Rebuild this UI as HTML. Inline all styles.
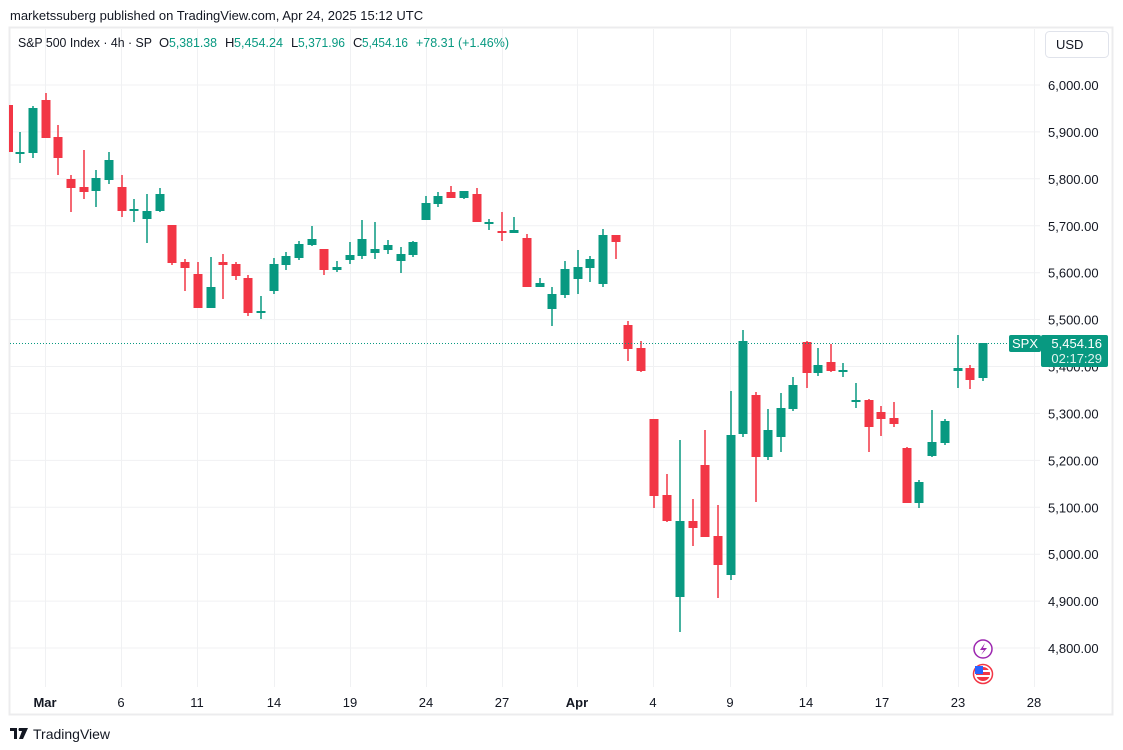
<!DOCTYPE html>
<html><head><meta charset="utf-8"><style>
body{margin:0;width:1123px;height:750px;background:#fff;overflow:hidden;font-family:"Liberation Sans",sans-serif}
svg{position:absolute;left:0;top:0}
</style></head><body>
<svg width="1123" height="750" xmlns="http://www.w3.org/2000/svg" font-family="Liberation Sans, sans-serif">
<rect x="0" y="0" width="1123" height="750" fill="#fff"/>
<text x="10" y="20" font-size="13" fill="#131722">marketssuberg published on TradingView.com, Apr 24, 2025 15:12 UTC</text>
<rect x="9.5" y="27.5" width="1103" height="687" fill="#fff" stroke="#ececee" stroke-width="2"/>
<g id="grid" stroke="#f0f1f3" stroke-width="1"></g>
<g font-size="13" fill="#131722">
<text x="18" y="47" textLength="134" lengthAdjust="spacingAndGlyphs">S&amp;P 500 Index · 4h · SP</text>
<text x="159" y="47">O</text><text x="169" y="47" fill="#089981" textLength="48" lengthAdjust="spacingAndGlyphs">5,381.38</text>
<text x="225" y="47">H</text><text x="234" y="47" fill="#089981" textLength="49" lengthAdjust="spacingAndGlyphs">5,454.24</text>
<text x="291" y="47">L</text><text x="298" y="47" fill="#089981" textLength="47" lengthAdjust="spacingAndGlyphs">5,371.96</text>
<text x="353" y="47">C</text><text x="362" y="47" fill="#089981" textLength="46" lengthAdjust="spacingAndGlyphs">5,454.16</text>
<text x="416" y="47" fill="#089981" textLength="93" lengthAdjust="spacingAndGlyphs">+78.31 (+1.46%)</text>
</g>
<rect x="1045.5" y="31.5" width="63" height="26" rx="4" fill="#fff" stroke="#e0e3eb"/>
<text x="1056" y="49" font-size="13" fill="#131722">USD</text>
<g id="candles"></g>
<line x1="10" y1="343.5" x2="1040" y2="343.5" stroke="#089981" stroke-dasharray="1,2"/>
<g id="labels" font-size="13" fill="#131722"></g>
<rect x="1009" y="335" width="32" height="17" rx="2" fill="#089981"/>
<text x="1025" y="348" font-size="13" fill="#fff" text-anchor="middle">SPX</text>
<rect x="1041" y="335" width="67" height="32" rx="2" fill="#089981"/>
<text x="1102" y="348" font-size="13" fill="#fff" text-anchor="end">5,454.16</text>
<text x="1102" y="363" font-size="13" fill="#dff3ee" text-anchor="end">02:17:29</text>
<circle cx="983" cy="649" r="9" fill="#fff" stroke="#9c27b0" stroke-width="1.5"/>
<path d="M985 643 L980 650 L984 650 L981 655 L987 648 L983 648 Z" fill="#9c27b0"/>
<circle cx="983" cy="674" r="9.5" fill="#fff" stroke="#f23645" stroke-width="1.5"/>
<rect x="976" y="667" width="14" height="14" rx="7" fill="#f23645"/>
<rect x="976" y="670" width="14" height="2" fill="#fff"/><rect x="976" y="675" width="14" height="2" fill="#fff"/>
<rect x="975" y="666" width="8" height="8" fill="#2962ff"/>
<path d="M10 728 H17 V739 H14 V731 H10 Z M19 728 H28 L23 739 H19 L22 731 H19 Z" fill="#131722"/>
<circle cx="20" cy="729.5" r="1.5" fill="#131722"/>
<text x="33" y="739" font-size="14" fill="#131722">TradingView</text>
</svg>
<script>
const NS="http://www.w3.org/2000/svg";
function el(p,t,a,txt){const e=document.createElementNS(NS,t);for(const k in a)e.setAttribute(k,a[k]);if(txt!==undefined)e.textContent=txt;p.appendChild(e);return e;}
const grid=document.getElementById('grid'),lab=document.getElementById('labels');
const prices=[6000,5900,5800,5700,5600,5500,5400,5300,5200,5100,5000,4900,4800];
prices.forEach(p=>{const y=85+(6000-p)*0.4692;el(grid,'line',{x1:10,x2:1040,y1:y.toFixed(1),y2:y.toFixed(1)});
 el(lab,'text',{x:1048,y:(y+5).toFixed(1)},p.toLocaleString('en-US',{minimumFractionDigits:2}));});
const dates=[[45,'Mar',1],[121,'6'],[197,'11'],[274,'14'],[350,'19'],[426,'24'],[502,'27'],[577,'Apr',1],[653,'4'],[730,'9'],[806,'14'],[882,'17'],[958,'23'],[1034,'28']];
dates.forEach(d=>{el(grid,'line',{x1:d[0]+.5,x2:d[0]+.5,y1:29,y2:687});
 const t=el(lab,'text',{x:d[0],y:707,'text-anchor':'middle'},d[1]);if(d[2])t.setAttribute('font-weight','bold');});
const G='#089981',R='#f23645';
const C=[
[11,105,152,105,152,R],[20,152,152,132,163,G],[33,153,108,106,158,G],[46,100,138,93,138,R],[58,137,158,125,175,R],
[71,179,188,175,212,R],[84,187,192,150,199,R],[96,191,178,170,207,G],[109,180,160,152,184,G],[122,187,211,175,217,R],
[134,211,209,199,222,G],[147,219,211,194,243,G],[160,211,194,188,212,G],[172,225,263,225,265,R],[185,262,268,259,291,R],
[198,274,308,262,308,R],[211,308,287,257,308,G],[223,262,265,254,299,R],[236,264,276,262,280,R],[248,278,313,275,316,R],
[261,313,311,296,319,G],[274,291,264,258,294,G],[286,265,256,252,270,G],[299,258,244,241,260,G],[312,245,239,226,246,G],
[324,249,270,249,275,R],[337,270,267,261,272,G],[350,260,255,242,264,G],[362,256,239,220,259,G],[375,253,249,222,259,G],
[388,250,245,240,254,G],[401,261,254,247,273,G],[413,255,242,241,257,G],[426,220,203,196,220,G],[438,204,196,192,207,G],
[451,192,198,186,198,R],[464,198,191,191,199,G],[477,194,222,188,222,R],[489,222,222,219,230,G],[502,231,231,212,241,R],
[514,233,230,217,233,G],[527,238,287,234,287,R],[540,287,283,278,287,G],[552,309,294,287,326,G],[565,295,269,261,298,G],
[578,279,267,250,294,G],[590,268,259,256,282,G],[603,284,235,229,287,G],[616,235,242,235,259,R],
[628,325,349,321,361,R],[641,348,371,341,372,R],[654,419,496,419,508,R],[667,495,521,474,522,R],[680,597,521,440,632,G],
[693,521,528,499,546,R],[705,465,537,430,537,R],[718,536,565,505,598,R],[731,575,435,391,580,G],[743,434,341,330,437,G],
[756,395,457,392,502,R],[768,457,430,409,460,G],[781,437,408,393,452,G],[793,409,385,377,411,G],
[807,342,373,341,388,R],[818,373,365,348,376,G],[831,362,371,344,372,R],[843,370,370,363,377,G],[856,400,400,383,408,G],
[869,400,427,399,452,R],[881,412,419,406,436,R],[894,418,424,402,427,R],[907,448,503,447,503,R],[919,503,482,480,508,G],
[932,456,442,410,457,G],[945,443,421,419,445,G],[958,371,368,335,388,G],[970,368,380,365,389,R],[983,378,343,343,381,G]];
const cg=document.getElementById('candles');
C.forEach(c=>{const[x,o,cl,h,l,col]=c;const top=Math.min(o,cl),bh=Math.max(2,Math.abs(o-cl));
 el(cg,'rect',{x:x-0.75,y:h,width:1.5,height:l-h,fill:col});
 el(cg,'rect',{x:x==11?9:x-4.5,y:top,width:x==11?4:9,height:bh,fill:col});});
</script>
</body></html>
